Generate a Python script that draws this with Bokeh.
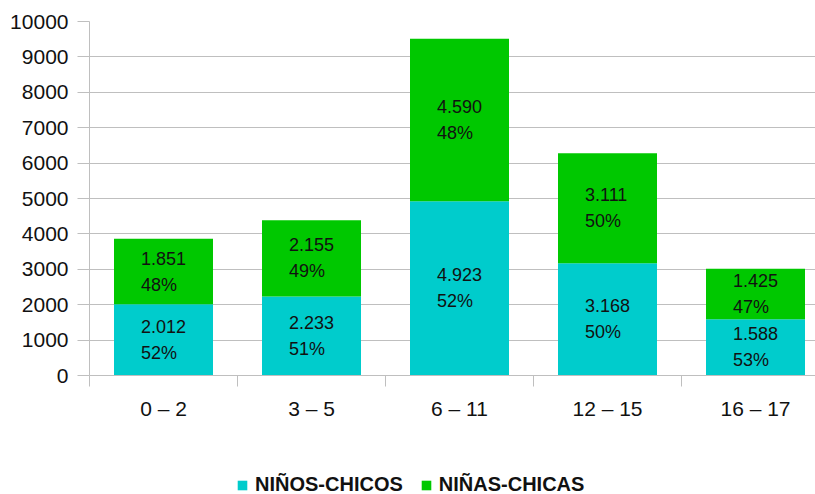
from bokeh.plotting import figure
from bokeh.layouts import column
from bokeh.models import (Range1d, FixedTicker, ColumnDataSource, Legend, LegendItem)
from bokeh.core.properties import value
from bokeh.embed import file_html
from bokeh.resources import INLINE

categories = ["0 – 2", "3 – 5", "6 – 11", "12 – 15", "16 – 17"]
ninos = [2012, 2233, 4923, 3168, 1588]
ninas = [1851, 2155, 4590, 3111, 1425]
series_names = ["NIÑOS-CHICOS", "NIÑAS-CHICAS"]
y_ticks = [0, 1000, 2000, 3000, 4000, 5000, 6000, 7000, 8000, 9000, 10000]

C_BOYS = "#00CCCC"
C_GIRLS = "#00C800"
FONT = "Liberation Sans"
TXT = "#111111"

def fmt(n):
    return f"{n:,}".replace(",", ".")

xs = [i + 0.5 for i in range(len(categories))]
totals = [a + b for a, b in zip(ninos, ninas)]
pct_b = [round(a / t * 100) for a, t in zip(ninos, totals)]
pct_g = [round(b / t * 100) for b, t in zip(ninas, totals)]

src = ColumnDataSource(dict(
    x=xs, ninos=ninos, ninas=ninas,
    mid_b=[a / 2 for a in ninos],
    mid_g=[a + b / 2 for a, b in zip(ninos, ninas)],
    lab_b=[f"{fmt(a)}\n{p}%" for a, p in zip(ninos, pct_b)],
    lab_g=[f"{fmt(b)}\n{p}%" for b, p in zip(ninas, pct_g)],
))

W = 815
H1, H2 = 440, 54
frame_left = 89
frame_top = 21
frame_h = 354
cat_px = 148
p = figure(width=W, height=H1, output_backend="svg", toolbar_location=None,
           x_range=Range1d(0, (W - frame_left) / cat_px), y_range=Range1d(0, 10000),
           min_border_left=frame_left, min_border_right=0, min_border_top=frame_top,
           min_border_bottom=H1 - frame_top - frame_h)
p.outline_line_color = None
p.background_fill_color = "white"
p.border_fill_color = "white"

rs = p.vbar_stack(["ninos", "ninas"], x="x", width=99 / cat_px, source=src,
                  color=[C_BOYS, C_GIRLS], line_color=None)

for col, mid in (("lab_b", "mid_b"), ("lab_g", "mid_g")):
    p.text(x="x", y=mid, text=col, source=src, x_offset=-22.5,
           text_align="left", text_baseline="middle", text_line_height=1.3,
           text_font=value(FONT), text_font_size="18px", text_color=TXT)

grid_col = "#BFBFBF"
p.xgrid.visible = False
p.ygrid.ticker = FixedTicker(ticks=y_ticks)
p.ygrid.grid_line_color = grid_col

p.yaxis.ticker = FixedTicker(ticks=y_ticks)
p.yaxis.axis_line_color = grid_col
p.yaxis.major_tick_line_color = grid_col
p.yaxis.major_tick_out = 12
p.yaxis.major_tick_in = 0
p.yaxis.minor_tick_line_color = None
p.yaxis.major_label_standoff = 9
p.yaxis.major_label_text_font = FONT
p.yaxis.major_label_text_font_size = "21px"
p.yaxis.major_label_text_color = TXT

p.xaxis.ticker = FixedTicker(ticks=xs, minor_ticks=list(range(len(categories) + 1)))
p.xaxis.major_label_overrides = {x: c for x, c in zip(xs, categories)}
p.xaxis.axis_line_color = grid_col
p.xaxis.major_tick_line_color = None
p.xaxis.major_tick_out = 0
p.xaxis.major_tick_in = 0
p.xaxis.minor_tick_line_color = grid_col
p.xaxis.minor_tick_out = 11
p.xaxis.minor_tick_in = 0
p.xaxis.major_label_standoff = 10
p.xaxis.major_label_text_font = FONT
p.xaxis.major_label_text_font_size = "21px"
p.xaxis.major_label_text_color = TXT

# legend strip (dummy renderers lie outside the visible range; only the legend shows)
p2 = figure(width=W, height=H2, output_backend="svg", toolbar_location=None,
            x_axis_location=None, y_axis_location=None, min_border=0,
            x_range=Range1d(0, 1), y_range=Range1d(0, 1))
p2.outline_line_color = None
p2.grid.visible = False
dummy = ColumnDataSource(dict(x=[10], top=[10]))
lr = [p2.vbar(x="x", top="top", bottom=9, width=0.1, source=dummy, color=c, line_color=None)
      for c in (C_BOYS, C_GIRLS)]
legend = Legend(items=[LegendItem(label=n, renderers=[r]) for n, r in zip(series_names, lr)],
                location=(147, -2), orientation="horizontal",
                padding=0, margin=0, spacing=17, label_standoff=7,
                glyph_width=12, glyph_height=12, label_height=14,
                border_line_color=None, background_fill_alpha=0,
                label_text_font=FONT, label_text_font_size="20px",
                label_text_font_style="bold", label_text_color=TXT)
p2.add_layout(legend, "center")

layout = column(p, p2, spacing=0)
open("out.html", "w").write(file_html(layout, INLINE))
